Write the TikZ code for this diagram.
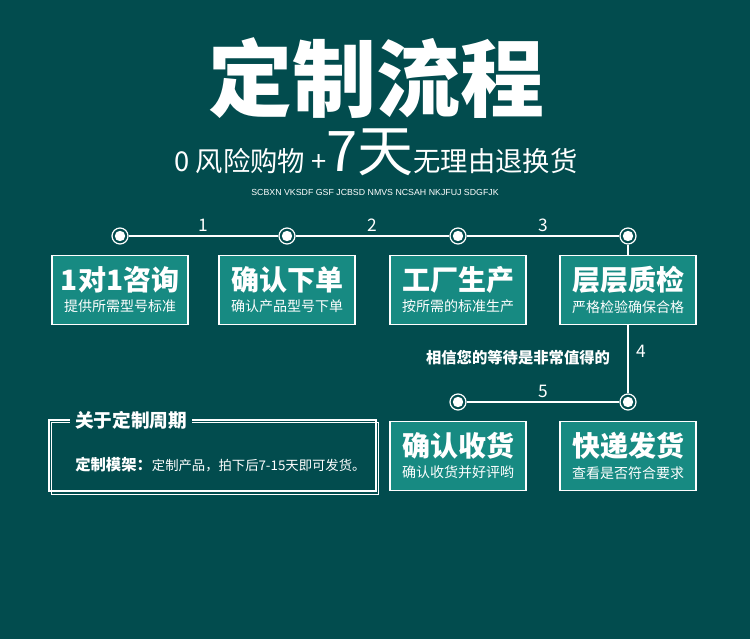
\documentclass[tikz,border=0pt]{standalone}
\usepackage{fontspec}
\setmainfont{Noto Sans CJK SC}
\newfontfamily\latinsans{Liberation Sans}
\usepackage{xcolor}
\usetikzlibrary{positioning}

\definecolor{bgteal}{HTML}{024C4E}
\definecolor{boxteal}{HTML}{178A82}

% title and sub line inside one box
\newcommand{\boxtext}[2]{%
    \fontsize{21}{18.5}\selectfont\bfseries #1\\[4pt]
    \fontsize{10.5}{18.5}\selectfont\mdseries #2}

\begin{document}
\begin{tikzpicture}[
    x=0.75pt, y=-0.75pt,
    stepbox/.style={
        draw=white, line width=1pt, rectangle, fill=boxteal,
        minimum width=102pt, minimum height=51.75pt,
        text=white, align=center, inner sep=0pt
    },
    dot/.style={
        circle, draw=white, line width=0.9pt,
        minimum size=12pt, inner sep=0pt,
        path picture={\fill[white] (path picture bounding box.center) circle (3.9pt);}
    },
    link/.style={draw=white, line width=1pt},
    num/.style={text=white, font=\fontsize{13}{15}\selectfont, inner sep=1pt},
    frameline/.style={draw=white, line width=0.8pt}
]

% --- background and canvas
\fill[bgteal] (0,0) rectangle (750,639);
\useasboundingbox (0,0) rectangle (750,639);

% --- headline
\node (title) [text=white, font=\fontsize{63}{70}\selectfont\bfseries] at (376,78) {定制流程};
\node (slogan) [text=white, anchor=base, inner sep=0pt] at (376,171)
    {\fontsize{20.5}{24}\selectfont 0 风险购物 +\fontsize{42}{44}\selectfont 7天\fontsize{20.5}{24}\selectfont 无理由退换货};
\node (letters) [text=white, font=\latinsans\fontsize{6.6}{7}\selectfont] at (375,192)
    {SCBXN VKSDF GSF JCBSD NMVS NCSAH NKJFUJ SDGFJK};

% --- timeline dots
\node (c1) [dot] at (120,236) {};
\node (c2) [dot] at (287,236) {};
\node (c3) [dot] at (458,236) {};
\node (c4) [dot] at (628,236) {};
\node (c5) [dot] at (628,402) {};
\node (c6) [dot] at (458,402) {};

% --- connectors with step numbers
\draw [link] (c1) -- (c2) node [num, midway, above=2pt] {1};
\draw [link] (c2) -- (c3) node [num, midway, above=2pt] {2};
\draw [link] (c3) -- (c4) node [num, midway, above=2pt] {3};
\draw [link] (c4) -- (c5) node [num, pos=0.72, right=5pt] {4};
\draw [link] (c5) -- (c6) node [num, midway, above=2pt] {5};

% --- steps
\node (ask)     [stepbox, below=7.5pt of c1] {\boxtext{1对1咨询}{提供所需型号标准}};
\node (order)   [stepbox, below=7.5pt of c2] {\boxtext{确认下单}{确认产品型号下单}};
\node (make)    [stepbox, below=7.5pt of c3] {\boxtext{工厂生产}{按所需的标准生产}};
\node (check)   [stepbox, below=7.5pt of c4] {\boxtext{层层质检}{严格检验确保合格}};
\node (ship)    [stepbox, below=7.5pt of c5] {\boxtext{快递发货}{查看是否符合要求}};
\node (receive) [stepbox, below=7.5pt of c6] {\boxtext{确认收货}{确认收货并好评哟}};

\node (wait) [text=white, font=\fontsize{11.5}{13}\selectfont\bfseries] at (518,358) {相信您的等待是非常值得的};

% --- period box
\node (period) [frameline, rectangle, minimum width=245.25pt, minimum height=53.25pt] at (212.5,455.5) {};
\draw [frameline] ([shift={(3,3)}]period.north west) rectangle ([shift={(2,3)}]period.south east);
\node (ptitle) [text=white, fill=bgteal, inner xsep=4pt, font=\fontsize{14}{16}\selectfont\bfseries] at (131,420) {关于定制周期};
\node (pbody) [text=white, anchor=west, inner sep=0pt] at (75,465)
    {{\fontsize{11.5}{13}\selectfont\bfseries 定制模架：}{\fontsize{10}{12}\selectfont 定制产品，拍下后7-15天即可发货。}};

\end{tikzpicture}
\end{document}
